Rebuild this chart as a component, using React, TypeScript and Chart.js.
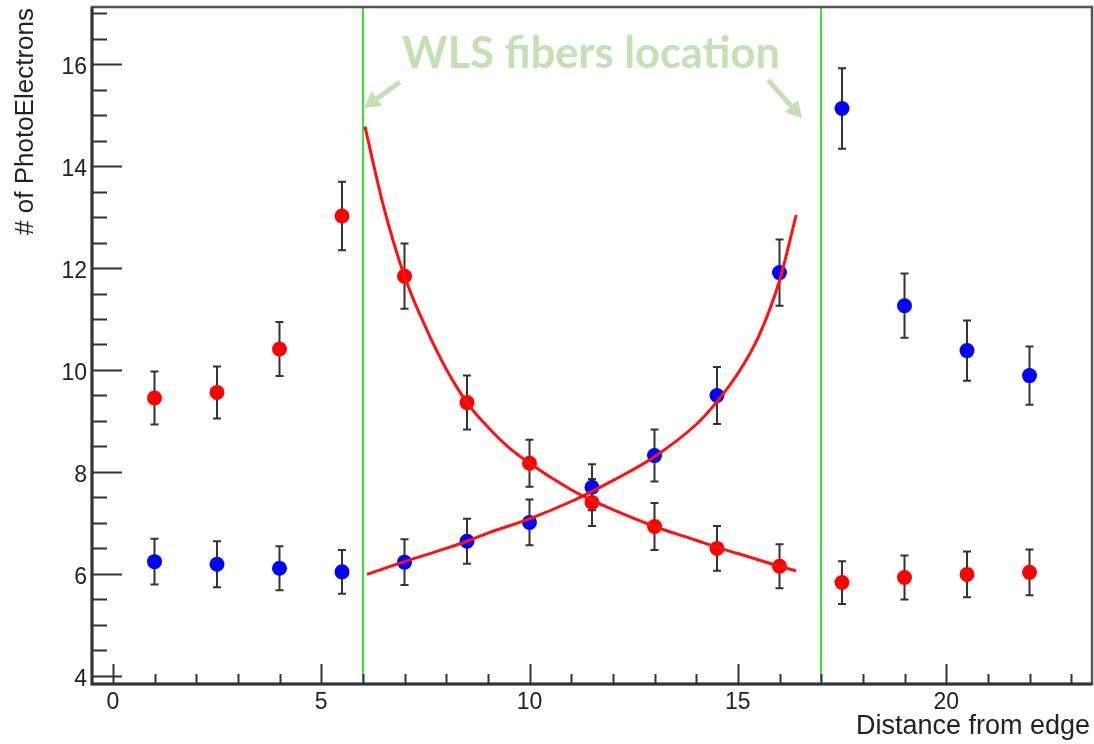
import { useEffect, useRef } from "react";
import { Chart, registerables } from "chart.js";
Chart.register(...registerables);

// ---- data ----
const xPositions = [1, 2.5, 4, 5.5, 7, 8.5, 10, 11.5, 13, 14.5, 16, 17.5, 19, 20.5, 22];
const redValues = [9.45, 9.56, 10.41, 13.02, 11.84, 9.36, 8.17, 7.4, 6.93, 6.5, 6.15, 5.83, 5.93, 5.99, 6.03];
const redErrors = [0.52, 0.51, 0.53, 0.67, 0.64, 0.53, 0.46, 0.46, 0.46, 0.44, 0.43, 0.42, 0.43, 0.45, 0.45];
const blueValues = [6.24, 6.19, 6.11, 6.04, 6.23, 6.64, 7.01, 7.7, 8.32, 9.5, 11.91, 15.13, 11.26, 10.38, 9.89];
const blueErrors = [0.45, 0.45, 0.43, 0.43, 0.45, 0.44, 0.45, 0.45, 0.51, 0.56, 0.65, 0.79, 0.63, 0.59, 0.57];

const fitDecX = [6.05, 6.5, 7, 7.5, 8, 8.5, 9, 9.5, 10, 11, 11.5, 12, 13, 14, 14.5, 15, 16, 16.4];
const fitDecY = [14.78, 13.2, 11.84, 10.85, 10.02, 9.36, 8.88, 8.48, 8.17, 7.65, 7.44, 7.26, 6.93, 6.66, 6.52, 6.4, 6.15, 6.06];
const fitIncX = [6.1, 7, 8, 8.5, 9, 10, 11, 11.5, 12, 13, 14, 14.5, 15, 15.5, 16, 16.4];
const fitIncY = [5.99, 6.24, 6.5, 6.64, 6.8, 7.08, 7.42, 7.62, 7.83, 8.3, 8.93, 9.38, 9.93, 10.66, 11.75, 13.04];

const fiberLines = [6, 17];
const xMajorTicks = [0, 5, 10, 15, 20];
const yMajorTicks = [4, 6, 8, 10, 12, 14, 16];
const xTitle = "Distance from edge";
const yTitle = "# of PhotoElectrons";
const annotationText = "WLS fibers location";

const FONT = "'Liberation Sans', Arial, Helvetica, sans-serif";
const AREA = { left: 92, top: 7, right: 1092, bottom: 684 };

const rootPlugin = {
  id: "rootStyle",
  afterLayout(chart: any) {
    const a = chart.chartArea;
    a.left = AREA.left; a.right = AREA.right; a.top = AREA.top; a.bottom = AREA.bottom;
    a.width = AREA.right - AREA.left; a.height = AREA.bottom - AREA.top;
    const xs = chart.scales.x;
    xs.left = AREA.left; xs.right = AREA.right; xs.width = AREA.right - AREA.left;
    xs.configure();
    const ys = chart.scales.y;
    ys.top = AREA.top; ys.bottom = AREA.bottom; ys.height = AREA.bottom - AREA.top;
    ys.configure();
  },
  beforeDatasetsDraw(chart: any) {
    const { ctx, chartArea: a, scales } = chart;
    const xs = scales.x, ys = scales.y;
    ctx.save();
    // green fiber lines
    ctx.strokeStyle = "#33e633";
    ctx.lineWidth = 2;
    fiberLines.forEach((v) => {
      const px = Math.round(xs.getPixelForValue(v));
      ctx.beginPath();
      ctx.moveTo(px, a.top);
      ctx.lineTo(px, a.bottom);
      ctx.stroke();
    });
    // error bars
    ctx.strokeStyle = "#333";
    ctx.lineWidth = 2;
    const drawErr = (vals: number[], errs: number[]) => {
      vals.forEach((v, i) => {
        const px = xs.getPixelForValue(xPositions[i]);
        const y1 = ys.getPixelForValue(v + errs[i]);
        const y2 = ys.getPixelForValue(v - errs[i]);
        ctx.beginPath();
        ctx.moveTo(px, y1);
        ctx.lineTo(px, y2);
        ctx.moveTo(px - 4, y1);
        ctx.lineTo(px + 4, y1);
        ctx.moveTo(px - 4, y2);
        ctx.lineTo(px + 4, y2);
        ctx.stroke();
      });
    };
    drawErr(redValues, redErrors);
    drawErr(blueValues, blueErrors);
    ctx.restore();
  },
  afterDraw(chart: any) {
    const { ctx, chartArea: a, scales } = chart;
    const xs = scales.x, ys = scales.y;
    ctx.save();
    // ticks inside frame
    ctx.strokeStyle = "#333";
    ctx.lineWidth = 2;
    ctx.beginPath();
    for (let v = 0; v <= 23; v += 1) {
      const px = Math.round(xs.getPixelForValue(v)) + 0.5;
      const len = v % 5 === 0 ? 20 : 10;
      ctx.moveTo(px, a.bottom);
      ctx.lineTo(px, a.bottom - len);
    }
    for (let v = 4; v <= 17; v += 0.5) {
      const py = Math.round(ys.getPixelForValue(v)) + 0.5;
      const len = v % 2 === 0 ? 30 : 15;
      ctx.moveTo(a.left, py);
      ctx.lineTo(a.left + len, py);
    }
    ctx.stroke();
    // frame
    ctx.strokeStyle = "#555";
    ctx.lineWidth = 2.5;
    ctx.strokeRect(a.left, a.top, a.right - a.left, a.bottom - a.top);
    ctx.strokeStyle = "#333";
    ctx.lineWidth = 3;
    ctx.beginPath();
    ctx.moveTo(a.left, a.top);
    ctx.lineTo(a.left, a.bottom);
    ctx.lineTo(a.right, a.bottom);
    ctx.stroke();

    // tick labels
    ctx.fillStyle = "#222";
    ctx.font = `23px ${FONT}`;
    ctx.textBaseline = "alphabetic";
    ctx.textAlign = "center";
    xMajorTicks.forEach((v) => {
      ctx.fillText(String(v), xs.getPixelForValue(v), 709);
    });
    ctx.textAlign = "right";
    yMajorTicks.forEach((v) => {
      ctx.fillText(String(v), 87, ys.getPixelForValue(v) + 10);
    });

    // axis titles
    ctx.font = `27px ${FONT}`;
    ctx.textAlign = "right";
    ctx.fillText(xTitle, 1090, 734);
    ctx.save();
    ctx.translate(33, 8);
    ctx.rotate(-Math.PI / 2);
    ctx.textAlign = "right";
    ctx.font = `26px ${FONT}`;
    ctx.fillText(yTitle, 0, 0);
    ctx.restore();

    // annotation
    const green = "#c5e0b4";
    ctx.fillStyle = green;
    let size = 38;
    ctx.font = `bold ${size}px Lato, 'Open Sans', sans-serif`;
    const w = ctx.measureText(annotationText).width;
    size = size * 378 / w;
    ctx.font = `bold ${size}px Lato, 'Open Sans', sans-serif`;
    ctx.textAlign = "center";
    ctx.fillText(annotationText, 591, 68);

    const arrow = (x1: number, y1: number, x2: number, y2: number) => {
      const ang = Math.atan2(y2 - y1, x2 - x1);
      const head = 16;
      const hw = 9;
      const bx = x2 - head * Math.cos(ang);
      const by = y2 - head * Math.sin(ang);
      ctx.strokeStyle = green;
      ctx.lineWidth = 5;
      ctx.beginPath();
      ctx.moveTo(x1, y1);
      ctx.lineTo(bx, by);
      ctx.stroke();
      ctx.beginPath();
      ctx.moveTo(x2, y2);
      ctx.lineTo(bx + hw * Math.sin(ang), by - hw * Math.cos(ang));
      ctx.lineTo(bx - hw * Math.sin(ang), by + hw * Math.cos(ang));
      ctx.closePath();
      ctx.fill();
    };
    arrow(400, 82, 364, 108);
    arrow(768, 80, 802, 118);
    ctx.restore();
  },
};

export default function App() {
  const ref = useRef<HTMLCanvasElement>(null);
  useEffect(() => {
    document.body.style.margin = "0";
    const toPts = (xsArr: number[], ysArr: number[]) => xsArr.map((x, i) => ({ x, y: ysArr[i] }));
    const chart = new Chart(ref.current!, {
      type: "scatter",
      data: {
        datasets: [
          {
            type: "line",
            label: "fit decreasing",
            data: toPts(fitDecX, fitDecY),
            borderColor: "#ff1111",
            borderWidth: 3,
            pointRadius: 0,
            showLine: true,
            cubicInterpolationMode: "monotone",
            fill: false,
          } as any,
          {
            type: "line",
            label: "fit increasing",
            data: toPts(fitIncX, fitIncY),
            borderColor: "#ff1111",
            borderWidth: 3,
            pointRadius: 0,
            showLine: true,
            cubicInterpolationMode: "monotone",
            fill: false,
          } as any,
          {
            label: "red",
            data: toPts(xPositions, redValues),
            backgroundColor: "#ff0000",
            borderColor: "#ff0000",
            pointRadius: 7.5,
            borderWidth: 0,
          },
          {
            label: "blue",
            data: toPts(xPositions, blueValues),
            backgroundColor: "#0000ff",
            borderColor: "#0000ff",
            pointRadius: 7.5,
            borderWidth: 0,
          },
        ],
      },
      options: {
        responsive: false,
        animation: false,
        devicePixelRatio: 1,
        layout: { padding: { top: 7, right: 2, left: 0, bottom: 0 } },
        plugins: { legend: { display: false }, tooltip: { enabled: false } },
        scales: {
          x: {
            type: "linear",
            min: -0.5,
            max: 23.5,
            grid: { display: false, drawTicks: false },
            border: { display: false },
            ticks: { display: false },
            afterBuildTicks: (s: any) => { s.ticks = xMajorTicks.map((v) => ({ value: v })); },
            afterFit: (s: any) => { s.height = 60; },
          },
          y: {
            type: "linear",
            min: 3.84,
            max: 17.12,
            grid: { display: false, drawTicks: false },
            border: { display: false },
            ticks: { display: false },
            afterBuildTicks: (s: any) => { s.ticks = yMajorTicks.map((v) => ({ value: v })); },
            afterFit: (s: any) => { s.width = 92; },
          },
        },
      },
      plugins: [rootPlugin],
    });
    return () => chart.destroy();
  }, []);
  return (
    <div style={{ width: 1094, height: 744, position: "relative", background: "#fff" }}>
      <canvas ref={ref} width={1094} height={744} style={{ display: "block" }} />
    </div>
  );
}
